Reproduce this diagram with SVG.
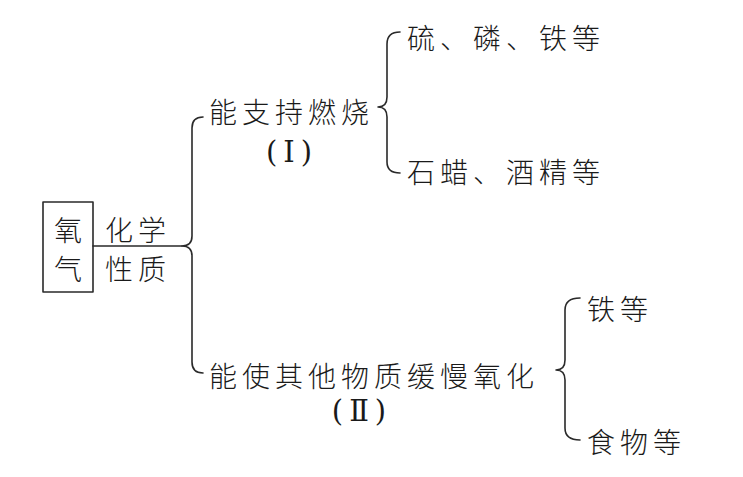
<svg xmlns="http://www.w3.org/2000/svg" width="743" height="477" viewBox="0 0 743 477">
<style>
.t{font-family:"Noto Sans CJK SC","Noto Sans CJK JP",sans-serif;font-size:28px;font-weight:300;letter-spacing:5px;fill:#1a1a1a;dominant-baseline:central}
.r{font-family:"DejaVu Serif","Liberation Serif","Noto Sans CJK SC",serif;font-size:29px;font-weight:300;fill:#1a1a1a;dominant-baseline:central;text-anchor:middle}
.ln{fill:none;stroke:#2a2a2a;stroke-width:1.6;stroke-linecap:round;stroke-linejoin:round}
</style>
<rect width="743" height="477" fill="#ffffff"/>
<g id="oxygen">
<rect class="ln" x="43" y="202" width="50" height="90"/>
<text class="t" x="54" y="229">氧</text>
<text class="t" x="54" y="268">气</text>
</g>
<g id="chem-props">
<text class="t" x="105" y="229">化学</text>
<text class="t" x="105" y="268">性质</text>
</g>
<g id="combustion">
<text class="t" x="209" y="111">能支持燃烧</text>
<text class="r" x="292" y="152" letter-spacing="6">(Ⅰ)</text>
</g>
<g id="sulfur">
<text class="t" x="407" y="37">硫、磷、铁等</text>
</g>
<g id="paraffin">
<text class="t" x="407" y="171">石蜡、酒精等</text>
</g>
<g id="slow-oxidation">
<text class="t" x="209" y="375">能使其他物质缓慢氧化</text>
<text class="r" x="362" y="411" letter-spacing="6">(Ⅱ)</text>
</g>
<g id="iron">
<text class="t" x="587" y="308">铁等</text>
</g>
<g id="food">
<text class="t" x="587" y="441">食物等</text>
</g>
<g id="connectors">
<path class="ln" d="M93,246 L182,246"/>
<path class="ln" d="M203,117 Q192,117 192,128 L192,236 Q192,246 182,246 Q192,246 192,256 L192,362 Q192,373 203,373"/>
<path class="ln" d="M400,32 Q387,32 387,44 L387,97 Q387,107 378,107 Q387,107 387,117 L387,162 Q387,173 400,173"/>
<path class="ln" d="M580,298 Q565,298 565,310 L565,360 Q565,370 556,370 Q565,370 565,380 L565,428 Q565,440 580,440"/>
</g>
</svg>
